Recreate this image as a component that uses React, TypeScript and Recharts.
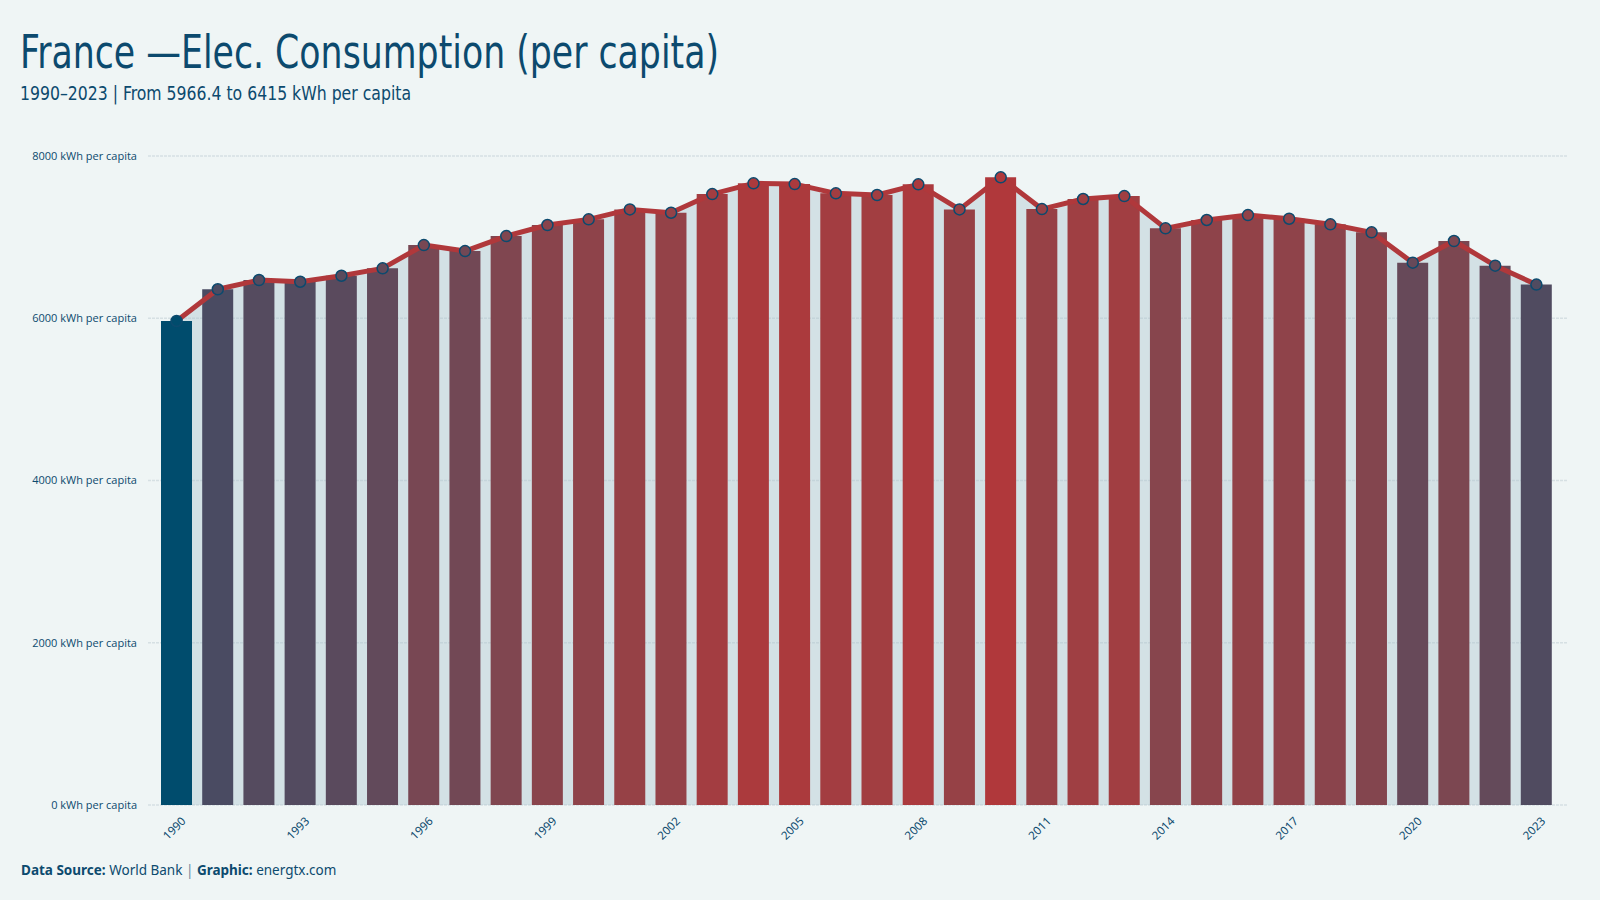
import React from "react";
import {
  ComposedChart,
  Bar,
  Line,
  Area,
  XAxis,
  YAxis,
  CartesianGrid,
  Cell,
} from "recharts";

// France electricity consumption, kWh per capita
const years = [
  "1990", "1991", "1992", "1993", "1994", "1995", "1996", "1997", "1998", "1999",
  "2000", "2001", "2002", "2003", "2004", "2005", "2006", "2007", "2008", "2009",
  "2010", "2011", "2012", "2013", "2014", "2015", "2016", "2017", "2018", "2019",
  "2020", "2021", "2022", "2023",
];
const kwhPerCapita = [
  5966.4, 6357, 6471, 6450, 6524, 6615, 6902, 6828, 7013, 7149,
  7219, 7342, 7301, 7531, 7663, 7654, 7540, 7519, 7651, 7342,
  7737, 7346, 7470, 7506, 7108, 7211, 7272, 7227, 7158, 7059,
  6685, 6952, 6648, 6415,
];
const yTicks = [0, 2000, 4000, 6000, 8000];
const xTicks = ["1990", "1993", "1996", "1999", "2002", "2005", "2008", "2011", "2014", "2017", "2020", "2023"];

const BG = "#eff5f5";
const INK = "#0c4a6e";
const LOW = "#004c6d";
const HIGH = "#b0383b";
const CONDENSED = "'DejaVu Sans Condensed', 'DejaVu Sans', sans-serif";

// --- Lab colour interpolation (low value -> blue, high value -> red)
const toLin = (c: number) => {
  c /= 255;
  return c <= 0.04045 ? c / 12.92 : Math.pow((c + 0.055) / 1.055, 2.4);
};
const fromLin = (c: number) => {
  const v = c <= 0.0031308 ? 12.92 * c : 1.055 * Math.pow(c, 1 / 2.4) - 0.055;
  return Math.max(0, Math.min(255, Math.round(v * 255)));
};
const Xn = 0.95047, Yn = 1, Zn = 1.08883;
const f = (t: number) => (t > 0.008856 ? Math.cbrt(t) : 7.787 * t + 16 / 116);
const fi = (t: number) => (t > 0.206893 ? t * t * t : (t - 16 / 116) / 7.787);

function hexToLab(hex: string) {
  const r = toLin(parseInt(hex.slice(1, 3), 16));
  const g = toLin(parseInt(hex.slice(3, 5), 16));
  const b = toLin(parseInt(hex.slice(5, 7), 16));
  const x = (0.4124 * r + 0.3576 * g + 0.1805 * b) / Xn;
  const y = (0.2126 * r + 0.7152 * g + 0.0722 * b) / Yn;
  const z = (0.0193 * r + 0.1192 * g + 0.9505 * b) / Zn;
  return [116 * f(y) - 16, 500 * (f(x) - f(y)), 200 * (f(y) - f(z))];
}

function labToHex([L, a, bb]: number[]) {
  const fy = (L + 16) / 116;
  const x = Xn * fi(fy + a / 500);
  const y = Yn * fi(fy);
  const z = Zn * fi(fy - bb / 200);
  const r = fromLin(3.2406 * x - 1.5372 * y - 0.4986 * z);
  const g = fromLin(-0.9689 * x + 1.8758 * y + 0.0415 * z);
  const b = fromLin(0.0557 * x - 0.204 * y + 1.057 * z);
  return "#" + [r, g, b].map((v) => v.toString(16).padStart(2, "0")).join("");
}

const lowLab = hexToLab(LOW);
const highLab = hexToLab(HIGH);
const vMin = Math.min(...kwhPerCapita);
const vMax = Math.max(...kwhPerCapita);
const colorFor = (v: number) => {
  const t = (v - vMin) / (vMax - vMin);
  return labToHex(lowLab.map((c, i) => c + (highLab[i] - c) * t));
};

const data = years.map((year, i) => ({
  year,
  value: kwhPerCapita[i],
  color: colorFor(kwhPerCapita[i]),
}));

const YearTick = (props: any) => {
  const { x, y, payload } = props;
  return (
    <g transform={`translate(${x + 7},${y + 14})`}>
      <text
        transform="rotate(-45)"
        textAnchor="end"
        dy="0.35em"
        fontSize={11.5}
        fontFamily="'Noto Sans', sans-serif"
        fill={INK}
      >
        {payload.value}
      </text>
    </g>
  );
};

const ValueDot = (props: any) => {
  const { cx, cy, payload, index } = props;
  return (
    <circle
      key={`dot-${index}`}
      cx={cx}
      cy={cy}
      r={5.5}
      fill={payload.color}
      stroke={INK}
      strokeWidth={1.5}
    />
  );
};

export default function App() {
  return (
    <div
      style={{
        position: "absolute",
        left: 0,
        top: 0,
        width: 1600,
        height: 900,
        background: BG,
        overflow: "hidden",
      }}
    >
      <ComposedChart
        width={1600}
        height={900}
        data={data}
        margin={{ top: 156, right: 33, left: 0, bottom: 35 }}
      >
        <CartesianGrid
          vertical={false}
          stroke="#d6e0e3"
          strokeWidth={1.5}
          strokeDasharray="3 1"
        />
        <XAxis
          dataKey="year"
          ticks={xTicks}
          interval={0}
          tick={<YearTick />}
          tickLine={false}
          axisLine={false}
          tickSize={0}
          tickMargin={0}
          height={60}
          padding={{ left: 8, right: 10 }}
        />
        <YAxis
          domain={[0, 8000]}
          ticks={yTicks}
          width={148}
          tickLine={false}
          axisLine={false}
          tickSize={6}
          tickMargin={5}
          tickFormatter={(v: number) => `${v} kWh per capita`}
          tick={{ fontSize: 11, fill: INK, fontFamily: "'Open Sans', sans-serif" }}
        />
        <Area
          type="linear"
          dataKey="value"
          stroke="none"
          fill="#a9c4ce"
          fillOpacity={0.4}
          isAnimationActive={false}
        />
        <Bar dataKey="value" barSize={31} isAnimationActive={false}>
          {data.map((d) => (
            <Cell key={d.year} fill={d.color} />
          ))}
        </Bar>
        <Line
          type="linear"
          dataKey="value"
          stroke={HIGH}
          strokeWidth={5}
          strokeLinejoin="round"
          dot={<ValueDot />}
          activeDot={false}
          isAnimationActive={false}
        />
      </ComposedChart>
      <svg
        width={1600}
        height={900}
        style={{ position: "absolute", left: 0, top: 0, pointerEvents: "none" }}
      >
        <text
          x={20}
          y={68}
          fontSize={46}
          fontFamily={CONDENSED}
          fontStretch="condensed"
          textLength={699}
          lengthAdjust="spacingAndGlyphs"
          fill={INK}
        >
          France —Elec. Consumption (per capita)
        </text>
        <text
          x={20}
          y={100}
          fontSize={20}
          fontFamily={CONDENSED}
          fontStretch="condensed"
          textLength={391}
          lengthAdjust="spacingAndGlyphs"
          fill={INK}
        >
          1990–2023 | From 5966.4 to 6415 kWh per capita
        </text>
        <text x={21} y={875} fontSize={13.5} fontFamily="'Noto Sans', sans-serif" fill={INK}>
          <tspan fontWeight={700}>Data Source:</tspan>
          <tspan> World Bank </tspan>
          <tspan fill="#6b8a9c">|</tspan>
          <tspan fontWeight={700}> Graphic:</tspan>
          <tspan> energtx.com</tspan>
        </text>
      </svg>
    </div>
  );
}
